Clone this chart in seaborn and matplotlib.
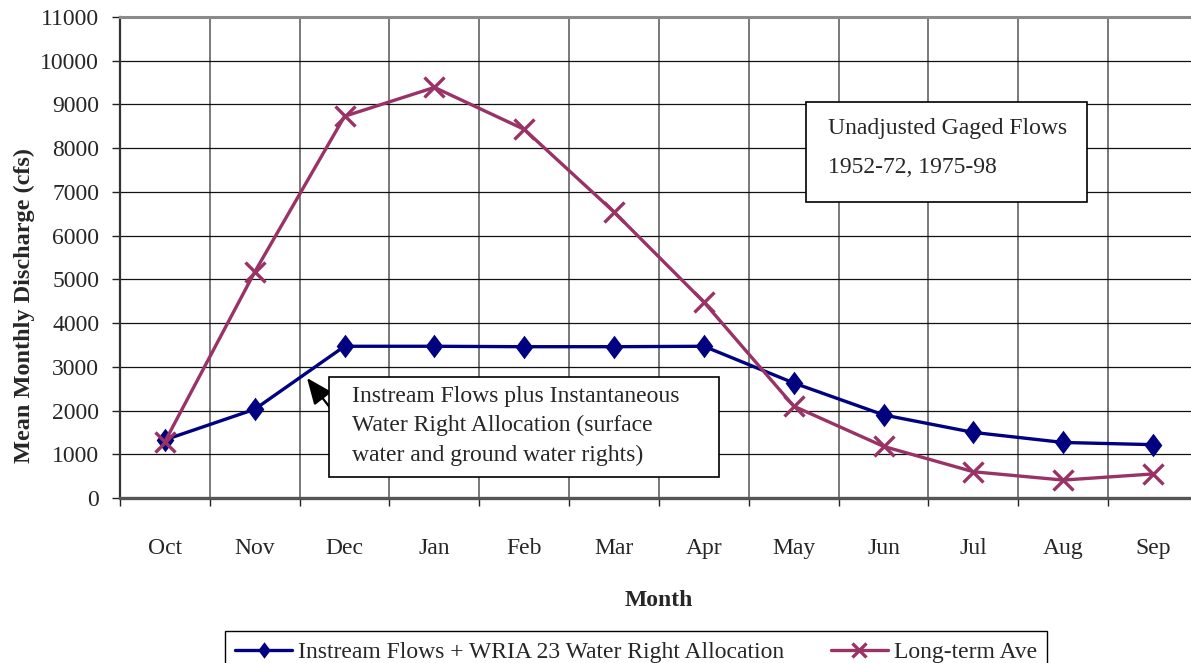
import numpy as np
import pandas as pd
import matplotlib.pyplot as plt
import seaborn as sns
from matplotlib.patches import Rectangle
from matplotlib.ticker import MultipleLocator, FixedLocator

# data
months = ['Oct', 'Nov', 'Dec', 'Jan', 'Feb', 'Mar', 'Apr', 'May', 'Jun', 'Jul', 'Aug', 'Sep']
instream = [1330, 2030, 3470, 3470, 3460, 3460, 3470, 2630, 1900, 1500, 1270, 1220]
long_term = [1290, 5170, 8730, 9390, 8430, 6540, 4480, 2100, 1180, 600, 410, 550]
y_ticks = list(range(0, 11001, 1000))

instream_label = 'Instream Flows + WRIA 23 Water Right Allocation'
long_term_label = 'Long-term Ave'
gaged_note = 'Unadjusted Gaged Flows\n1952-72, 1975-98'
instream_note = 'Instream Flows plus Instantaneous\nWater Right Allocation (surface\nwater and ground water rights)'

sns.set_style('white')
plt.rcParams['font.family'] = ['Liberation Serif', 'DejaVu Serif']

W, H = 1191, 663
fig = plt.figure(figsize=(W / 100, H / 100), dpi=100)


def fx(px):
    return px / W


def fy(py):
    return 1 - py / H


# axes runs a little past the right edge of the picture, as in the original
ax = fig.add_axes([fx(120), fy(498), fx(1198 - 120), (498 - 17) / H])

df = pd.DataFrame({'pos': np.arange(len(months)), 'instream': instream, 'long_term': long_term})

blue = '#000080'
purple = '#993366'
diamond = [(0, 1), (0.75, 0), (0, -1), (-0.75, 0), (0, 1)]
sns.lineplot(data=df, x='pos', y='instream', ax=ax, color=blue, lw=2.4,
             marker=diamond, markersize=17, markeredgewidth=0, markerfacecolor=blue,
             markeredgecolor=blue, label=instream_label, zorder=4)
sns.lineplot(data=df, x='pos', y='long_term', ax=ax, color=purple, lw=2.4,
             marker='x', markersize=14, markeredgewidth=2.4, markeredgecolor=purple,
             label=long_term_label, zorder=4)

ax.set_xlim(-0.5, len(months) - 0.5)
ax.set_ylim(0, 11000)
ax.yaxis.set_major_locator(FixedLocator(y_ticks))
ax.set_yticklabels([str(t) for t in y_ticks])

ax.set_xticks(np.arange(len(months)))
ax.set_xticklabels(months)
ax.xaxis.set_minor_locator(MultipleLocator(1, offset=0.5))

ax.grid(True, axis='y', which='major', color='#111111', lw=0.9)
ax.grid(True, axis='x', which='minor', color='#555555', lw=1.1)
ax.set_axisbelow(True)

ax.tick_params(axis='x', which='major', length=0, pad=29, labelsize=17)
ax.tick_params(axis='x', which='minor', length=6, width=1, color='#222222', direction='out', bottom=True)
ax.tick_params(axis='y', which='major', length=6, width=1, color='#222222', direction='out',
               left=True, pad=9, labelsize=17)

for side, sp in ax.spines.items():
    sp.set_visible(True)
ax.spines['top'].set_color('#8a8a8a')
ax.spines['top'].set_linewidth(2.2)
ax.spines['bottom'].set_color('#555555')
ax.spines['bottom'].set_linewidth(2.4)
ax.spines['left'].set_color('#333333')
ax.spines['left'].set_linewidth(1.6)

ax.set_xlabel('Month', fontsize=17, fontweight='bold', labelpad=22)
ax.set_ylabel('Mean Monthly Discharge (cfs)', fontsize=17.5, fontweight='bold')
ax.yaxis.set_label_coords(-0.079, 0.40)

# text boxes
fig.add_artist(Rectangle((fx(806), fy(202)), fx(1087 - 806), (202 - 102) / H,
                         transform=fig.transFigure, fc='white', ec='black', lw=1.2, zorder=5))
fig.text(fx(828), fy(148), gaged_note, fontsize=17, va='center', ha='left',
         linespacing=2.1, zorder=6)

fig.add_artist(Rectangle((fx(329), fy(477)), fx(719 - 329), (477 - 377) / H,
                         transform=fig.transFigure, fc='white', ec='black', lw=1.2, zorder=5))
fig.text(fx(352), fy(426), instream_note, fontsize=17, va='center', ha='left',
         linespacing=1.5, zorder=6)

ax.annotate('', xy=(307, H - 378), xytext=(331, H - 409), xycoords='figure pixels',
            textcoords='figure pixels',
            arrowprops=dict(arrowstyle='-|>,head_length=1.0,head_width=0.42',
                            color='black', lw=1.6, shrinkA=0, shrinkB=0, mutation_scale=16))

ax.legend_.remove()
handles, labels = ax.get_legend_handles_labels()
leg = fig.legend(handles, labels, loc='upper center', ncol=2,
                 bbox_to_anchor=(fx(636), fy(619)), bbox_transform=fig.transFigure,
                 fontsize=17, frameon=True, fancybox=False, edgecolor='black',
                 framealpha=1, handlelength=2.4, handletextpad=0.25, columnspacing=2.0,
                 markerscale=0.7, borderpad=0.45)
leg.get_frame().set_linewidth(1.0)

fig.savefig('out.png', dpi=100)
